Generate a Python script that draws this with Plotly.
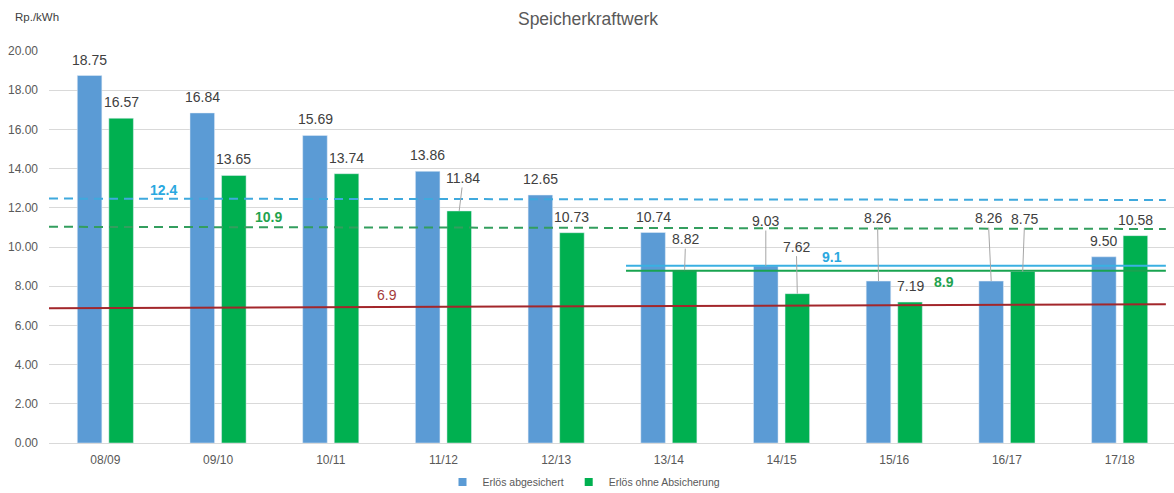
import plotly.graph_objects as go

# ---------------- data ----------------
seasons = ["08/09", "09/10", "10/11", "11/12", "12/13",
           "13/14", "14/15", "15/16", "16/17", "17/18"]
erloes_abgesichert = [18.75, 16.84, 15.69, 13.86, 12.65, 10.74, 9.03, 8.26, 8.26, 9.50]
erloes_ohne_absicherung = [16.57, 13.65, 13.74, 11.84, 10.73, 8.82, 7.62, 7.19, 8.75, 10.58]
y_ticks = [0, 2, 4, 6, 8, 10, 12, 14, 16, 18, 20]

# reference levels (start value, end value) and their labels
mittel_abgesichert_gesamt = [12.47, 12.40]
mittel_ohne_gesamt = [11.03, 10.92]
grenzlinie = [6.88, 7.08]
mittel_abgesichert_ab_1314 = [9.04, 9.04]
mittel_ohne_ab_1314 = [8.79, 8.79]
ref_label_texts = ["12.4", "10.9", "6.9", "9.1", "8.9"]

# ---------------- styles ----------------
C_BLUE = "#5B9BD5"
C_GREEN = "#00B050"
C_TXT = "#595959"
C_LBL = "#404040"
FONT = "Liberation Sans, Arial, sans-serif"

fig = go.Figure()
fig.add_trace(go.Bar(x=list(range(len(seasons))), y=erloes_abgesichert,
                     marker_color=C_BLUE, showlegend=False, hoverinfo="skip"))
fig.add_trace(go.Bar(x=list(range(len(seasons))), y=erloes_ohne_absicherung,
                     marker_color=C_GREEN, showlegend=False, hoverinfo="skip"))
# legend entries (small squares like the original)
fig.add_trace(go.Scatter(x=[None], y=[None], mode="markers", name="Erlös abgesichert",
                         marker=dict(symbol="square", size=8, color=C_BLUE)))
fig.add_trace(go.Scatter(x=[None], y=[None], mode="markers", name="Erlös ohne Absicherung",
                         marker=dict(symbol="square", size=8, color=C_GREEN)))

# ---------------- reference lines ----------------
X_LEFT, X_RIGHT, X_RECENT = -0.5, 9.41, 4.62
shapes = []
def hline(x0, x1, vals, color, dash=None, width=2):
    shapes.append(dict(type="line", xref="x", yref="y", x0=x0, x1=x1,
                       y0=vals[0], y1=vals[1], layer="above",
                       line=dict(color=color, width=width, dash=dash)))

hline(X_LEFT, X_RIGHT, mittel_abgesichert_gesamt, "#3FA9DD", dash="9px,6px")
hline(X_LEFT, X_RIGHT, mittel_ohne_gesamt, "#339E5E", dash="9px,6px")
hline(X_LEFT, X_RIGHT, grenzlinie, "#A3262B", width=2)
hline(X_RECENT, X_RIGHT, mittel_abgesichert_ab_1314, "#3AB0E2")
hline(X_RECENT, X_RIGHT, mittel_ohne_ab_1314, "#19A350")

annotations = []
ref_label_pos = [(0.515, 12.9), (1.45, 11.53), (2.50, 7.55), (6.45, 9.49), (7.44, 8.21)]
ref_label_style = [("#2AA8E0", True), ("#1FA34F", True), ("#A33A3A", False),
                   ("#2AA8E0", True), ("#1FA34F", True)]
for txt, (px, py), (col, bold) in zip(ref_label_texts, ref_label_pos, ref_label_style):
    annotations.append(dict(x=px, y=py, xref="x", yref="y", showarrow=False,
                            text=f"<b>{txt}</b>" if bold else txt,
                            font=dict(family=FONT, size=14, color=col)))

# ---------------- data labels ----------------
BAR_SHIFT = 15.75
# leader-line label offsets (pixels) keyed by (series, index)
leaders = {
    (1, 3): (4, -33),
    (1, 5): (1, -31),
    (0, 6): (0, -45),
    (1, 6): (-1, -47),
    (0, 7): (-1, -63),
    (0, 8): (-3, -63),
    (1, 8): (2, -53),
}
for s, series in enumerate([erloes_abgesichert, erloes_ohne_absicherung]):
    shift = -BAR_SHIFT if s == 0 else BAR_SHIFT
    for i, v in enumerate(series):
        base = dict(x=i, y=v, xref="x", yref="y", xshift=shift, text=f"{v:.2f}",
                    font=dict(family=FONT, size=14, color=C_LBL))
        if (s, i) in leaders:
            ax, ay = leaders[(s, i)]
            base.update(showarrow=True, arrowhead=0, arrowwidth=1,
                        arrowcolor="#A6A6A6", ax=ax, ay=ay, standoff=0)
        else:
            base.update(showarrow=False, yanchor="bottom", yshift=6)
        annotations.append(base)

annotations.append(dict(x=-0.032, y=1.087, xref="paper", yref="paper", showarrow=False,
                        xanchor="left", yanchor="middle", text="Rp./kWh",
                        font=dict(family=FONT, size=11.5, color="#404040")))

fig.update_layout(
    width=1174, height=493,
    margin=dict(l=49, r=0, t=51, b=50),
    paper_bgcolor="white", plot_bgcolor="white",
    barmode="group", bargap=0.44, bargroupgap=0.222,
    title=dict(text="Speicherkraftwerk", x=588 / 1174, xanchor="center",
               y=1 - 19 / 493, yanchor="middle", yref="container",
               font=dict(family=FONT, size=17.5, color=C_TXT)),
    xaxis=dict(range=[-0.5, -0.5 + 1125 / 112.7], tickvals=list(range(len(seasons))),
               ticktext=seasons, showgrid=False, zeroline=False,
               showline=False, ticks="", ticklabelstandoff=8,
               tickfont=dict(family=FONT, size=12, color=C_TXT), fixedrange=True),
    yaxis=dict(range=[0, 20], tickvals=y_ticks, ticktext=[f"{t:.2f}" for t in y_ticks],
               showgrid=True, gridcolor="#D9D9D9", gridwidth=1, zeroline=True,
               zerolinecolor="#D9D9D9", zerolinewidth=1, showline=False, ticks="",
               ticklabelstandoff=10,
               tickfont=dict(family=FONT, size=12, color=C_TXT), fixedrange=True),
    legend=dict(orientation="h", xref="container", yref="container",
                x=584 / 1174, xanchor="center", y=1 - 482 / 493, yanchor="middle",
                font=dict(family=FONT, size=10.5, color=C_TXT), itemwidth=30,
                bgcolor="rgba(0,0,0,0)"),
    shapes=shapes,
    annotations=annotations,
    hovermode=False,
)

fig.write_html(
    "out.html",
    config={"displayModeBar": False},
    post_script="document.documentElement.style.margin='0';"
                "document.body.style.margin='0';document.body.style.overflow='hidden';",
)
